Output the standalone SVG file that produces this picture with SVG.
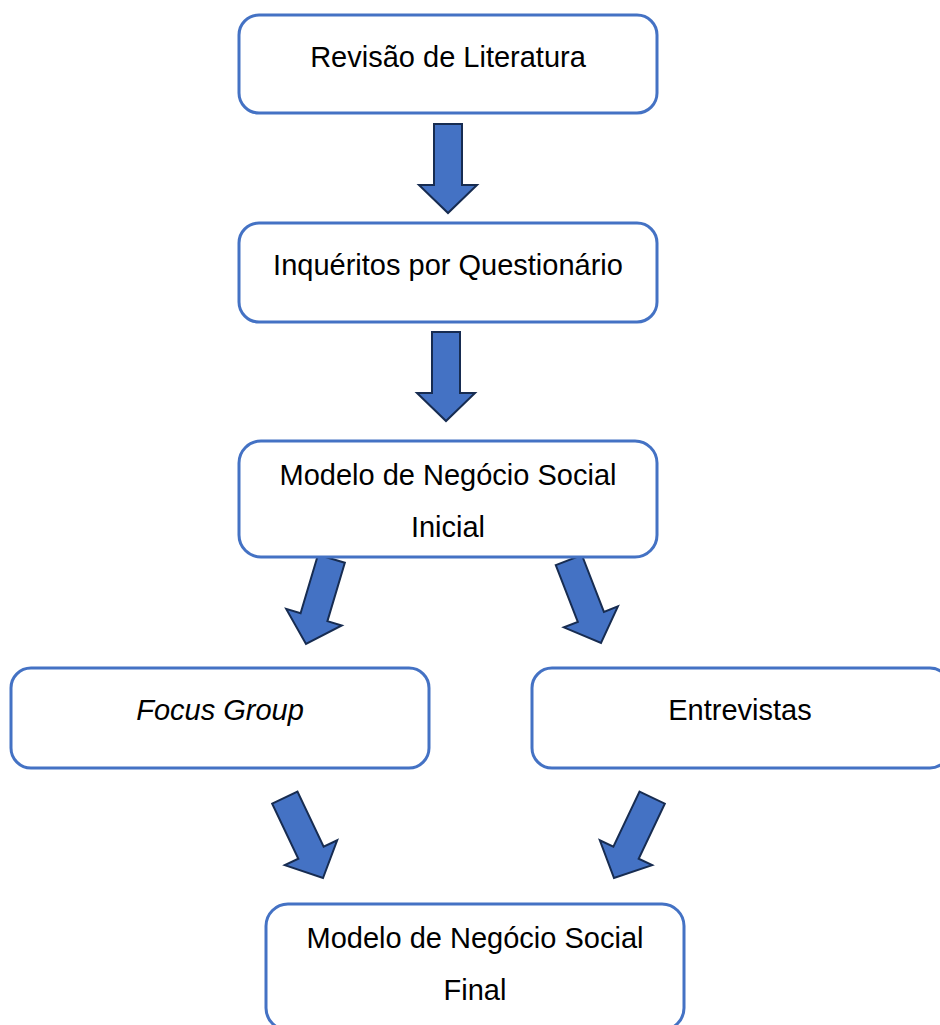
<svg xmlns="http://www.w3.org/2000/svg" width="940" height="1025" viewBox="0 0 940 1025">
  <style>
    .box { fill: #ffffff; stroke: #4472C4; stroke-width: 3; }
    .lbl { font-family: "Liberation Sans", Arial, sans-serif; font-size: 29px; fill: #000000; text-anchor: middle; }
    .it { font-style: italic; }
    .arr { fill: #4472C4; stroke: #172C51; stroke-width: 2; stroke-linejoin: miter; }
  </style>
  <defs>
    <polygon id="arrow" points="-14,-89 14,-89 14,-28 29,-28 0,0 -29,-28 -14,-28"/>
  </defs>
  <rect width="940" height="1025" fill="#ffffff"/>

  <g id="connectors">
    <use href="#arrow" class="arr" transform="translate(448,213)"/>
    <use href="#arrow" class="arr" transform="translate(446,421)"/>
    <use href="#arrow" class="arr" transform="translate(306,644) rotate(16.6)"/>
    <use href="#arrow" class="arr" transform="translate(601,643) rotate(-21.2)"/>
    <use href="#arrow" class="arr" transform="translate(323,878) rotate(-25.4)"/>
    <use href="#arrow" class="arr" transform="translate(614,878) rotate(25.4)"/>
  </g>

  <g id="revisao">
    <rect class="box" x="239" y="15" width="418" height="98" rx="20"/>
    <text class="lbl" x="448" y="67">Revisão de Literatura</text>
  </g>

  <g id="inqueritos">
    <rect class="box" x="239" y="223" width="418" height="99" rx="20"/>
    <text class="lbl" x="448" y="275">Inquéritos por Questionário</text>
  </g>

  <g id="modelo-inicial">
    <rect class="box" x="239" y="441" width="418" height="116" rx="22"/>
    <text class="lbl" x="448" y="485">Modelo de Negócio Social</text>
    <text class="lbl" x="448" y="537">Inicial</text>
  </g>

  <g id="focus-group">
    <rect class="box" x="11" y="668" width="418" height="100" rx="20"/>
    <text class="lbl it" x="220" y="720">Focus Group</text>
  </g>

  <g id="entrevistas">
    <rect class="box" x="532" y="668" width="418" height="100" rx="20"/>
    <text class="lbl" x="740" y="720">Entrevistas</text>
  </g>

  <g id="modelo-final">
    <rect class="box" x="266" y="904" width="418" height="126" rx="22"/>
    <text class="lbl" x="475" y="948">Modelo de Negócio Social</text>
    <text class="lbl" x="475" y="1000">Final</text>
  </g>
</svg>
